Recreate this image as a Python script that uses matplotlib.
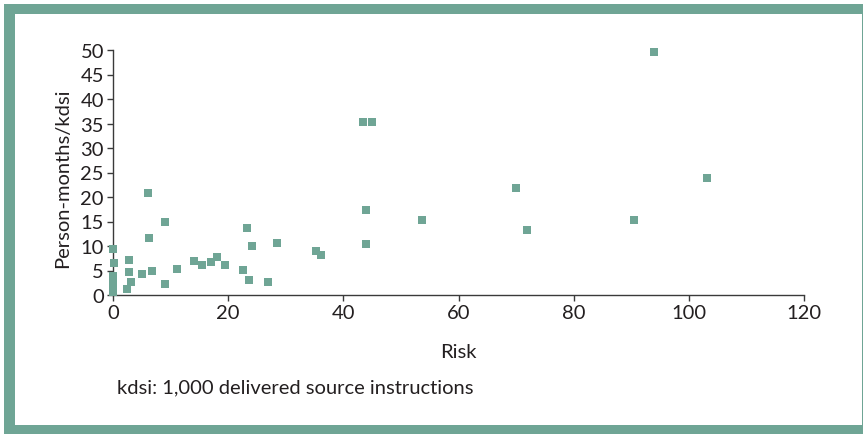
import matplotlib
matplotlib.use('Agg')
import matplotlib.pyplot as plt
from matplotlib.patches import Rectangle

# Risk vs. effort data points
risk = [0.0, 0.2, 0.0, 0.0, 0.0, 0.0,
        2.7, 2.8, 3.1, 2.4, 5.0, 6.0, 6.3, 6.7, 9.1, 9.1, 11.2,
        14.0, 15.5, 17.1, 18.1, 19.4, 22.6, 23.2, 23.7, 24.1, 26.9, 28.4,
        35.2, 36.1, 43.4, 45.0, 43.9, 43.9, 53.6, 69.9, 71.9, 90.4, 94.0, 103.1]
person_months = [9.3, 6.5, 3.9, 2.8, 1.7, 0.6,
                 7.2, 4.6, 2.7, 1.3, 4.2, 20.9, 11.7, 4.8, 14.8, 2.2, 5.4,
                 6.9, 6.2, 6.7, 7.8, 6.1, 5.2, 13.7, 3.1, 10.1, 2.7, 10.7,
                 9.0, 8.2, 35.3, 35.3, 17.4, 10.5, 15.4, 21.8, 13.2, 15.3, 49.6, 23.8]

x_ticks = [0, 20, 40, 60, 80, 100, 120]
y_ticks = [0, 5, 10, 15, 20, 25, 30, 35, 40, 45, 50]

TEAL = '#6fa595'
TEXT = '#231f20'
W, H = 863, 435
FS = 14.5

plt.rcParams['font.family'] = ['Lato', 'DejaVu Sans']

fig = plt.figure(figsize=(W / 100, H / 100), dpi=100)
fig.patch.set_facecolor('white')

# teal frame around the figure (right edge is cropped in the original)
fig.patches.append(Rectangle((4 / W, 0), 859 / W, 430 / H, transform=fig.transFigure,
                             facecolor=TEAL, edgecolor='none', zorder=-2))
fig.patches.append(Rectangle((15 / W, 9 / H), 847 / W, 411 / H, transform=fig.transFigure,
                             facecolor='white', edgecolor='none', zorder=-1))

ax = fig.add_axes([113 / W, 139 / H, 691 / W, 245 / H])
ax.set_zorder(2)
ax.set_facecolor('none')
ax.scatter(risk, person_months, marker='s', s=30, color=TEAL, linewidths=0,
           clip_on=False, zorder=3)

ax.set_xlim(0, 120)
ax.set_ylim(0, 50)
ax.set_xticks(x_ticks)
ax.set_yticks(y_ticks)
for side in ['top', 'right']:
    ax.spines[side].set_visible(False)
for side in ['left', 'bottom']:
    ax.spines[side].set_color('#3a3a3a')
    ax.spines[side].set_linewidth(1.0)
ax.tick_params(direction='out', length=4.5, width=1.0, color='#3a3a3a',
               labelsize=FS, labelcolor=TEXT, pad=2)

fig.text(458 / W, (H - 358) / H, 'Risk', ha='center', va='baseline',
         fontsize=FS, color=TEXT)
fig.text(63 / W, (H - 178) / H, 'Person-months/kdsi', rotation=90,
         ha='center', va='center', fontsize=FS, color=TEXT)
fig.text(117 / W, (H - 393) / H, 'kdsi: 1,000 delivered source instructions',
         ha='left', va='baseline', fontsize=FS, color=TEXT)

fig.savefig('out.png', dpi=100)
plt.close(fig)
